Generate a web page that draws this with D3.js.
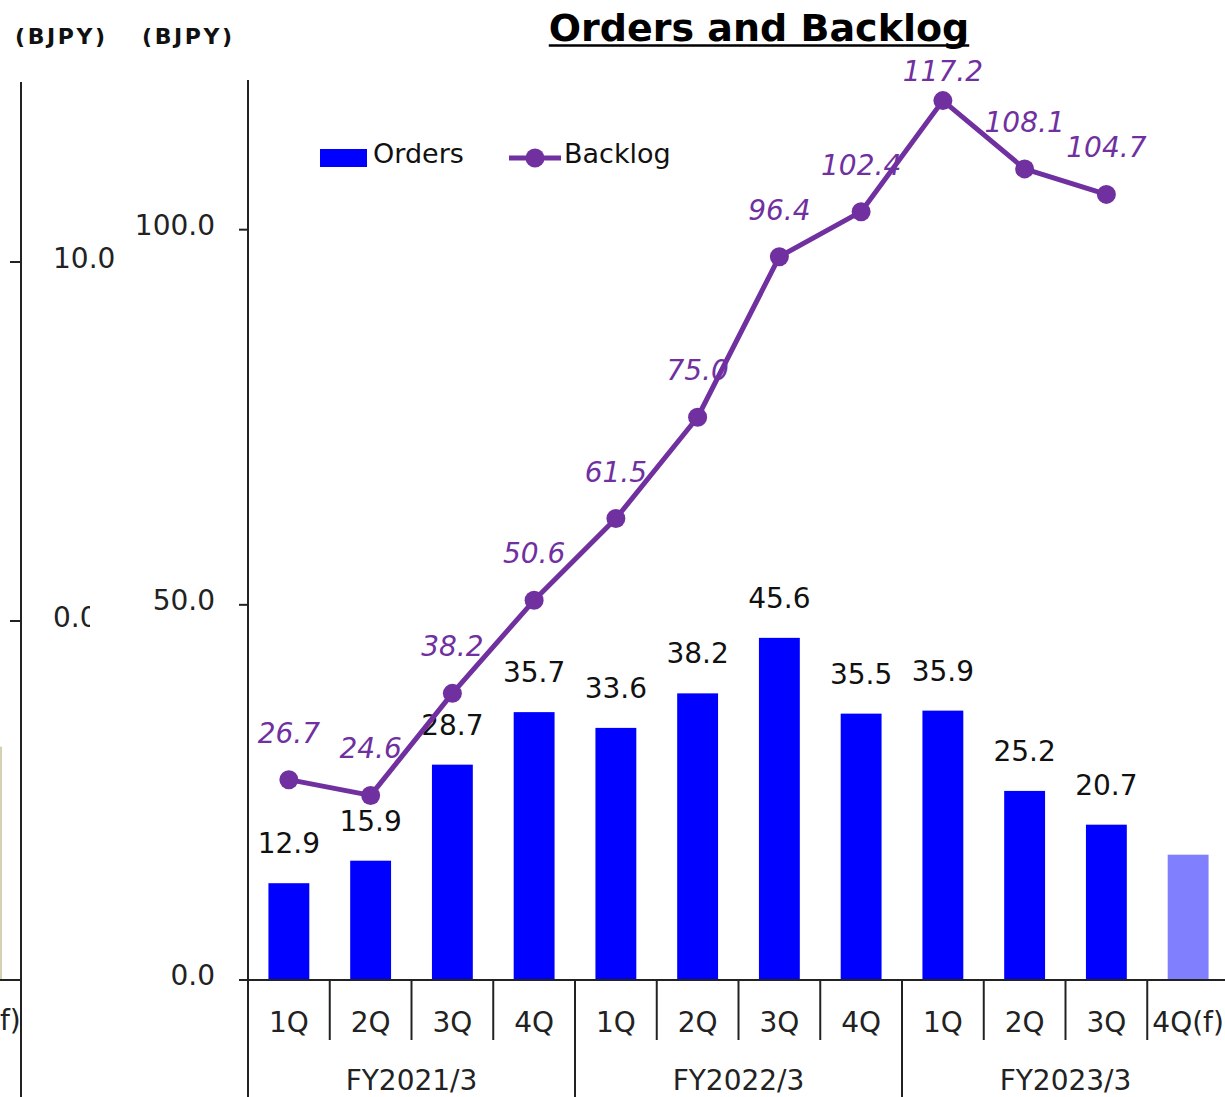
<!DOCTYPE html>
<html>
<head>
<meta charset="utf-8">
<script src="https://cdn.jsdelivr.net/npm/d3@7"></script>
<style>
  body { margin: 0; overflow: hidden; background: #fff; }
  text { font-family: "DejaVu Sans", Verdana, sans-serif; }
</style>
</head>
<body>
<script>
// data
var quarters = ["1Q", "2Q", "3Q", "4Q", "1Q", "2Q", "3Q", "4Q", "1Q", "2Q", "3Q", "4Q(f)"];
var fiscalYears = ["FY2021/3", "FY2022/3", "FY2023/3"];
var orders = [12.9, 15.9, 28.7, 35.7, 33.6, 38.2, 45.6, 35.5, 35.9, 25.2, 20.7, 16.7];
var forecast = [false, false, false, false, false, false, false, false, false, false, false, true];
var backlog = [26.7, 24.6, 38.2, 50.6, 61.5, 75.0, 96.4, 102.4, 117.2, 108.1, 104.7];
var yTicks = [0, 50, 100];
// neighbouring chart cut off at the left edge
var leftTicks = [0, 10];
var leftBar = [-3.5];

var width = 1225, height = 1097;
var blue = "#0000ff", lightBlue = "#8080ff", purple = "#7030a0";
var fmt = d3.format(".1f");

var svg = d3.select("body").append("svg")
  .attr("width", width)
  .attr("height", height);

// ----- left partial chart -----
var yLeft = d3.scaleLinear().domain([-10, 10]).range([980, 262]);
svg.append("defs").append("clipPath").attr("id", "leftclip")
  .append("rect").attr("x", 0).attr("y", 0).attr("width", 90).attr("height", height);

var left = svg.append("g");
left.selectAll(".lbar").data(leftBar).enter().append("rect")
  .attr("x", -40).attr("width", 42)
  .attr("y", function(d){ return yLeft(d); })
  .attr("height", function(d){ return yLeft(-10) - yLeft(d); })
  .attr("fill", "#d6d0b3");
left.append("line").attr("x1", 0).attr("x2", 21).attr("y1", yLeft(-10)).attr("y2", yLeft(-10))
  .attr("stroke", "#222").attr("stroke-width", 2);
left.append("line").attr("x1", 21).attr("x2", 21).attr("y1", 82).attr("y2", height)
  .attr("stroke", "#222").attr("stroke-width", 2);
left.selectAll(".ltick").data(leftTicks).enter().append("line")
  .attr("x1", 10).attr("x2", 21)
  .attr("y1", function(d){ return yLeft(d); }).attr("y2", function(d){ return yLeft(d); })
  .attr("stroke", "#222").attr("stroke-width", 2);
left.selectAll(".llab").data(leftTicks).enter().append("text")
  .attr("clip-path", function(d){ return d === 0 ? "url(#leftclip)" : null; })
  .attr("x", 53).attr("y", function(d){ return yLeft(d) + 6; })
  .attr("font-size", 28).attr("fill", "#222")
  .text(function(d){ return fmt(d); });
left.append("text").attr("x", 0).attr("y", 1030)
  .attr("font-size", 28).attr("fill", "#222").text("f)");

// unit labels
svg.selectAll(".unit").data([15, 142]).enter().append("text")
  .attr("x", function(d){ return d; }).attr("y", 44)
  .attr("font-size", 22).attr("font-weight", "bold").attr("letter-spacing", 2.6)
  .attr("fill", "#111").text("(BJPY)");

// ----- main chart -----
var x0 = 248, y0 = 980;
var xScale = d3.scaleBand()
  .domain(d3.range(quarters.length))
  .range([x0, x0 + 12 * 81.75])
  .paddingInner(0.5).paddingOuter(0.25);
var step = xScale.step();
var yScale = d3.scaleLinear().domain([0, 120]).range([y0, 79.6]);

// title
var title = svg.append("text").attr("x", 759).attr("y", 41)
  .attr("text-anchor", "middle").attr("font-size", 38).attr("font-weight", "bold")
  .attr("fill", "#000").text("Orders and Backlog");
var tb = title.node().getBBox();
svg.append("line").attr("x1", tb.x).attr("x2", tb.x + tb.width)
  .attr("y1", 45.5).attr("y2", 45.5).attr("stroke", "#000").attr("stroke-width", 2.5);

// bars
svg.selectAll(".bar").data(orders).enter().append("rect")
  .attr("class", "bar")
  .attr("x", function(d, i){ return xScale(i); })
  .attr("y", function(d){ return yScale(d); })
  .attr("width", xScale.bandwidth())
  .attr("height", function(d){ return y0 - yScale(d); })
  .attr("fill", function(d, i){ return forecast[i] ? lightBlue : blue; });

// bar labels
svg.selectAll(".blab").data(orders).enter()
  .filter(function(d, i){ return !forecast[i]; })
  .append("text")
  .attr("x", function(d, i){ return xScale(i) + xScale.bandwidth() / 2; })
  .attr("y", function(d){ return yScale(d) - 30; })
  .attr("text-anchor", "middle").attr("font-size", 28).attr("fill", "#111")
  .text(function(d){ return fmt(d); });

// y axis
svg.append("line").attr("x1", x0).attr("x2", x0).attr("y1", 80).attr("y2", height)
  .attr("stroke", "#222").attr("stroke-width", 2);
svg.selectAll(".ytick").data(yTicks).enter().append("line")
  .attr("x1", x0 - 9).attr("x2", x0)
  .attr("y1", function(d){ return yScale(d); }).attr("y2", function(d){ return yScale(d); })
  .attr("stroke", "#222").attr("stroke-width", 2);
svg.selectAll(".ylab").data(yTicks).enter().append("text")
  .attr("x", 215).attr("y", function(d){ return yScale(d) + 5; })
  .attr("text-anchor", "end").attr("font-size", 28).attr("fill", "#222")
  .text(function(d){ return fmt(d); });

// x axis: baseline, separators, labels
svg.append("line").attr("x1", x0).attr("x2", width).attr("y1", y0).attr("y2", y0)
  .attr("stroke", "#222").attr("stroke-width", 2);
svg.selectAll(".sep").data(d3.range(1, quarters.length)).enter().append("line")
  .attr("x1", function(i){ return xScale(i) - step * 0.25; })
  .attr("x2", function(i){ return xScale(i) - step * 0.25; })
  .attr("y1", y0)
  .attr("y2", function(i){ return i % 4 === 0 ? height : 1040; })
  .attr("stroke", "#222").attr("stroke-width", 2);
svg.selectAll(".qlab").data(quarters).enter().append("text")
  .attr("x", function(d, i){ return xScale(i) + xScale.bandwidth() / 2; })
  .attr("y", 1032)
  .attr("text-anchor", "middle").attr("font-size", 28).attr("fill", "#222")
  .text(function(d){ return d; });
svg.selectAll(".fylab").data(fiscalYears).enter().append("text")
  .attr("x", function(d, i){ return xScale(i * 4) - step * 0.25 + step * 2; })
  .attr("y", 1090)
  .attr("text-anchor", "middle").attr("font-size", 28).attr("fill", "#222")
  .text(function(d){ return d; });

// backlog line
var line = d3.line()
  .x(function(d, i){ return xScale(i) + xScale.bandwidth() / 2; })
  .y(function(d){ return yScale(d); });
svg.append("path").datum(backlog)
  .attr("d", line).attr("fill", "none")
  .attr("stroke", purple).attr("stroke-width", 5).attr("stroke-linejoin", "round");
svg.selectAll(".dot").data(backlog).enter().append("circle")
  .attr("cx", function(d, i){ return xScale(i) + xScale.bandwidth() / 2; })
  .attr("cy", function(d){ return yScale(d); })
  .attr("r", 9.5).attr("fill", purple);
svg.selectAll(".llabel").data(backlog).enter().append("text")
  .attr("x", function(d, i){ return xScale(i) + xScale.bandwidth() / 2; })
  .attr("y", function(d){ return Math.max(yScale(d) - 37, 81); })
  .attr("text-anchor", "middle").attr("font-size", 28).attr("font-style", "italic")
  .attr("fill", purple)
  .text(function(d){ return fmt(d); });

// legend
var lg = svg.append("g");
lg.append("rect").attr("x", 320).attr("y", 149).attr("width", 47).attr("height", 18).attr("fill", blue);
lg.append("text").attr("x", 373).attr("y", 163).attr("font-size", 27).attr("fill", "#111").text("Orders");
lg.append("line").attr("x1", 509).attr("x2", 561).attr("y1", 158).attr("y2", 158)
  .attr("stroke", purple).attr("stroke-width", 5);
lg.append("circle").attr("cx", 535).attr("cy", 158).attr("r", 9.5).attr("fill", purple);
lg.append("text").attr("x", 564).attr("y", 163).attr("font-size", 27).attr("fill", "#111").text("Backlog");
</script>
</body>
</html>
